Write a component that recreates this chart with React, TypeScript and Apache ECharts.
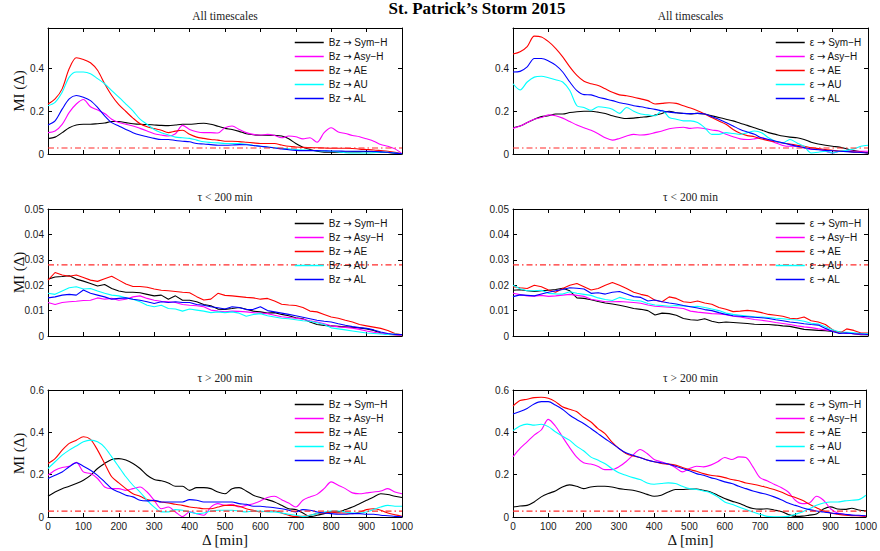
import React, { useEffect, useRef } from "react";
import * as echarts from "echarts";

// Lag Δ in minutes, sampled every 20 min
const lags = [
  0, 20, 40, 60, 80, 100, 120, 140, 160, 180,
  200, 220, 240, 260, 280, 300, 320, 340, 360, 380,
  400, 420, 440, 460, 480, 500, 520, 540, 560, 580,
  600, 620, 640, 660, 680, 700, 720, 740, 760, 780,
  800, 820, 840, 860, 880, 900, 920, 940, 960, 980,
  1000,
];

// Significance level of the mutual information
const threshold = 0.028;

const bzNames = ["Bz → Sym−H", "Bz → Asy−H", "Bz → AE", "Bz → AU", "Bz → AL"];
const epsNames = ["ε → Sym−H", "ε → Asy−H", "ε → AE", "ε → AU", "ε → AL"];

const panelTitles = ["All timescales", "τ < 200 min", "τ > 200 min"];
const xTickLabels = [0, 100, 200, 300, 400, 500, 600, 700, 800, 900, 1000];

// ---- All timescales, Bz driver ----
const bzSymAll = [.072,.079,.1,.123,.136,.139,.139,.142,.145,.152,
  .152,.147,.142,.139,.138,.136,.134,.133,.136,.139,
  .139,.142,.144,.139,.13,.12,.115,.106,.095,.09,
  .088,.088,.087,.084,.071,.049,.032,.021,.013,.009,
  .008,.008,.009,.01,.01,.011,.01,.009,.007,.004,
  .001];
const bzAsyAll = [.1,.108,.139,.195,.234,.255,.221,.206,.19,.163,
  .147,.139,.131,.12,.108,.095,.089,.084,.095,.134,
  .115,.104,.1,.1,.098,.123,.131,.115,.1,.092,
  .089,.092,.087,.076,.084,.081,.071,.076,.055,.1,
  .123,.103,.096,.087,.081,.071,.06,.044,.036,.024,
  .002];
const bzAEAll = [.234,.258,.305,.4,.451,.443,.427,.392,.329,.274,
  .231,.199,.168,.142,.128,.119,.111,.1,.107,.111,
  .092,.079,.073,.068,.065,.06,.06,.058,.055,.052,
  .049,.049,.049,.042,.036,.033,.031,.03,.029,.028,
  .027,.027,.027,.026,.023,.021,.019,.016,.013,.008,
  .001];
const bzAUAll = [.226,.242,.289,.36,.384,.384,.376,.353,.329,.297,
  .266,.234,.202,.163,.139,.115,.1,.089,.079,.076,
  .073,.065,.057,.054,.052,.049,.049,.049,.046,.04,
  .036,.033,.029,.027,.024,.021,.019,.017,.015,.014,
  .013,.01,.006,.005,.005,.005,.006,.008,.008,.005,
  .001];
const bzALAll = [.136,.155,.21,.258,.274,.266,.25,.218,.179,.147,
  .131,.115,.1,.089,.081,.073,.068,.068,.063,.06,
  .057,.049,.047,.044,.041,.041,.042,.044,.043,.04,
  .036,.033,.028,.024,.02,.017,.016,.016,.016,.015,
  .014,.014,.013,.013,.013,.013,.012,.01,.008,.004,
  .001];

// ---- All timescales, ε driver ----
const eSymAll = [.123,.131,.147,.163,.175,.179,.187,.187,.194,.198,
  .2,.2,.196,.19,.179,.171,.166,.168,.172,.175,
  .182,.19,.2,.193,.19,.188,.19,.187,.179,.171,
  .163,.155,.144,.134,.123,.112,.1,.092,.084,.079,
  .076,.068,.055,.047,.041,.036,.032,.024,.016,.011,
  .005];
const eAsyAll = [.12,.131,.147,.163,.171,.183,.179,.168,.152,.136,
  .123,.111,.095,.076,.065,.073,.084,.092,.089,.092,
  .1,.108,.118,.123,.125,.12,.123,.119,.112,.108,
  .092,.081,.071,.068,.071,.076,.065,.052,.04,.036,
  .036,.028,.021,.021,.013,.005,.013,.017,.013,.013,
  .013];
const eAEAll = [.468,.479,.503,.552,.548,.526,.495,.455,.408,.368,
  .341,.329,.321,.305,.289,.277,.273,.266,.258,.25,
  .234,.237,.24,.237,.226,.215,.202,.187,.171,.155,
  .139,.115,.097,.086,.081,.07,.062,.057,.052,.047,
  .041,.036,.03,.025,.021,.017,.014,.013,.009,.008,
  .005];
const eAUAll = [.329,.3,.337,.36,.364,.357,.348,.337,.297,.226,
  .218,.205,.221,.218,.21,.19,.218,.2,.187,.183,
  .179,.205,.171,.163,.155,.155,.147,.123,.092,.092,
  .1,.096,.092,.1,.108,.1,.076,.06,.052,.068,
  .052,.036,.005,.008,.013,.005,.013,.017,.024,.036,
  .041];
const eALAll = [.384,.387,.408,.447,.447,.436,.416,.384,.337,.297,
  .278,.277,.266,.258,.25,.24,.234,.226,.221,.215,
  .209,.202,.196,.193,.19,.189,.19,.187,.175,.163,
  .147,.131,.115,.103,.092,.076,.068,.06,.052,.044,
  .036,.03,.024,.02,.017,.015,.013,.011,.009,.007,
  .005];

// ---- τ < 200 min, Bz driver ----
const bzSymShort = [.0224,.0232,.0234,.0237,.0224,.0216,.0207,.0197,.0203,.0187,
  .0177,.0172,.0172,.017,.0164,.0158,.0161,.0145,.0158,.0141,
  .0141,.0135,.0124,.0119,.0106,.0105,.0108,.0112,.0105,.0098,
  .0095,.009,.0092,.0085,.008,.0072,.0068,.0055,.0045,.0042,
  .004,.0038,.0036,.0034,.0032,.0028,.0022,.0012,.0006,.0005,
  .0003];
const bzAsyShort = [.0132,.0124,.0132,.0135,.0137,.014,.0141,.015,.0145,.0148,
  .0141,.0145,.0154,.0158,.0148,.0141,.0137,.0135,.0132,.0124,
  .0121,.0119,.0115,.0102,.0098,.0095,.0098,.0097,.0095,.0092,
  .009,.0088,.0082,.0076,.0073,.007,.0066,.006,.0055,.0048,
  .004,.0036,.0034,.0031,.0026,.002,.0015,.0011,.0008,.0005,
  .0003];
const bzAEShort = [.022,.025,.024,.0235,.024,.023,.022,.0215,.0225,.0235,
  .022,.0205,.0195,.0195,.0192,.0185,.018,.0178,.0175,.0172,
  .017,.0155,.0142,.0145,.0168,.016,.0158,.0155,.0152,.015,
  .0145,.0148,.0138,.0125,.0122,.012,.0112,.0098,.0095,.0085,
  .0075,.007,.0062,.0055,.0045,.004,.0035,.003,.0022,.001,
  .0005];
const bzAUShort = [.0168,.0164,.0177,.019,.0194,.0185,.0187,.0177,.0168,.0161,
  .0158,.015,.0145,.0135,.0121,.0115,.0121,.0108,.0106,.0098,
  .0106,.0102,.0098,.0092,.0095,.0092,.0095,.009,.0078,.0085,
  .0088,.008,.0075,.007,.0068,.0064,.006,.0058,.0052,.0045,
  .0032,.0028,.0024,.002,.0016,.0012,.001,.0008,.0006,.0008,
  .0005];
const bzALShort = [.015,.0154,.0161,.0164,.0161,.0181,.0168,.0161,.0154,.0145,
  .0148,.015,.0145,.0141,.0135,.0128,.0135,.0132,.0135,.0132,
  .0132,.0124,.0121,.0115,.0111,.0106,.0115,.0112,.0104,.0105,
  .0115,.01,.0095,.009,.0085,.008,.0074,.0068,.0062,.0058,
  .0055,.0048,.0042,.0037,.0033,.003,.0024,.0016,.001,.0006,
  .0006];

// ---- τ < 200 min, ε driver ----
const eSymShort = [.018,.0182,.0178,.0175,.0178,.018,.0183,.0188,.0178,.015,
  .0148,.0143,.0136,.013,.0126,.0121,.0115,.0108,.0105,.01,
  .0083,.009,.0088,.0082,.0069,.0064,.0062,.0068,.0058,.0052,
  .0055,.0053,.0051,.0049,.0046,.0045,.0045,.0043,.004,.0038,
  .0032,.0026,.0024,.0022,.0021,.0018,.0016,.0012,.0009,.0005,
  .0005];
const eAsyShort = [.0168,.0163,.0158,.0157,.016,.0156,.0158,.0161,.0164,.016,
  .0156,.0145,.014,.0135,.0135,.0136,.0134,.0132,.0129,.0122,
  .0117,.0115,.0113,.0111,.0108,.0098,.0094,.0091,.0088,.0087,
  .0084,.0078,.0075,.007,.0065,.0062,.0058,.0053,.0049,.0045,
  .004,.0036,.0033,.0028,.0024,.002,.0014,.0011,.0009,.0007,
  .0005];
const eAEShort = [.0194,.019,.0187,.02,.0194,.0181,.0172,.0187,.02,.0207,
  .0194,.0181,.0187,.02,.0211,.02,.0187,.0172,.0164,.0158,
  .0141,.0135,.0154,.0148,.0135,.0132,.0138,.013,.0125,.0112,
  .0105,.0096,.0098,.0101,.0098,.0092,.0085,.0082,.0078,.007,
  .0068,.0075,.006,.0055,.0045,.0025,.001,.0028,.0022,.0012,
  .0012];
const eAUShort = [.02,.0186,.0178,.0178,.018,.0168,.0166,.0165,.0174,.0168,
  .0164,.016,.015,.0144,.014,.0152,.0145,.014,.0138,.0128,
  .0122,.012,.0117,.012,.0118,.0115,.0117,.0112,.0106,.01,
  .009,.0085,.0082,.0079,.0076,.0075,.0073,.007,.0068,.0065,
  .0063,.0058,.005,.0047,.0036,.0025,.0016,.0015,.0013,.001,
  .0009];
const eALShort = [.0155,.0162,.016,.0158,.0165,.0172,.0178,.0183,.019,.0188,
  .0185,.0168,.017,.0165,.0172,.0175,.0165,.0155,.0152,.0138,
  .0142,.0135,.013,.0126,.012,.0115,.011,.0104,.01,.0092,
  .0085,.008,.0078,.0076,.0074,.0072,.0069,.0064,.006,.0055,
  .0052,.0048,.0045,.0043,.003,.0018,.001,.0012,.0009,.0008,
  .0006];

// ---- τ > 200 min, Bz driver ----
const bzSymLong = [.098,.118,.134,.145,.158,.174,.197,.229,.253,.272,
  .276,.269,.253,.229,.197,.177,.171,.161,.145,.145,
  .126,.139,.139,.134,.118,.11,.134,.139,.123,.103,
  .092,.082,.071,.055,.039,.035,.019,.002,.008,.016,
  .024,.024,.035,.047,.063,.079,.095,.11,.106,.098,
  .092];
const bzAsyLong = [.197,.221,.234,.24,.258,.213,.205,.182,.142,.134,
  .134,.126,.134,.142,.118,.079,.039,.047,.024,.002,
  .024,.016,.008,.047,.063,.055,.06,.047,.055,.063,
  .076,.092,.098,.082,.066,.047,.079,.095,.107,.134,
  .166,.15,.134,.114,.11,.114,.118,.123,.134,.118,
  .11];
const bzAELong = [.253,.276,.316,.348,.363,.379,.367,.316,.253,.19,
  .161,.134,.11,.098,.082,.076,.071,.066,.06,.055,
  .047,.044,.039,.039,.047,.055,.055,.051,.039,.032,
  .024,.028,.028,.019,.008,.002,.003,.008,.016,.019,
  .024,.019,.019,.016,.024,.035,.039,.032,.019,.011,
  .003];
const bzAULong = [.229,.261,.292,.316,.335,.355,.363,.355,.329,.284,
  .237,.19,.15,.118,.079,.047,.024,.024,.035,.032,
  .024,.016,.019,.028,.032,.032,.032,.028,.024,.028,
  .028,.024,.024,.019,.013,.008,.002,.008,.016,.024,
  .028,.028,.024,.019,.019,.024,.035,.047,.055,.051,
  .051];
const bzALLong = [.182,.197,.213,.237,.256,.24,.221,.197,.166,.134,
  .118,.103,.095,.079,.076,.079,.071,.071,.071,.071,
  .082,.079,.071,.071,.071,.071,.071,.063,.06,.051,
  .051,.047,.044,.039,.032,.024,.035,.032,.024,.019,
  .016,.013,.013,.016,.016,.013,.013,.008,.006,.003,
  .001];

// ---- τ > 200 min, ε driver ----
const eSymLong = [.047,.052,.055,.071,.095,.111,.123,.142,.152,.145,
  .134,.142,.145,.145,.142,.134,.13,.126,.118,.107,
  .098,.103,.118,.13,.13,.132,.132,.126,.118,.103,
  .087,.075,.065,.051,.04,.037,.039,.033,.026,.012,
  .003,.004,.009,.014,.038,.048,.038,.036,.041,.033,
  .029];
const eAsyLong = [.284,.324,.355,.387,.411,.461,.43,.379,.329,.284,
  .256,.25,.24,.224,.224,.237,.261,.292,.319,.3,
  .272,.261,.25,.234,.213,.229,.24,.237,.245,.261,
  .281,.272,.284,.281,.237,.186,.171,.155,.139,.118,
  .079,.063,.066,.098,.079,.039,.019,.013,.008,.006,
  .003];
const eAELong = [.524,.55,.556,.564,.566,.561,.545,.521,.509,.498,
  .471,.45,.419,.395,.355,.324,.3,.288,.281,.269,
  .261,.253,.25,.245,.234,.224,.216,.205,.197,.193,
  .186,.177,.171,.161,.155,.148,.139,.13,.118,.103,
  .092,.079,.06,.044,.028,.019,.013,.008,.006,.006,
  .003];
const eAULong = [.408,.43,.439,.434,.438,.427,.403,.382,.363,.335,
  .313,.284,.269,.253,.229,.209,.197,.186,.177,.161,
  .155,.158,.161,.158,.145,.134,.13,.123,.114,.095,
  .071,.06,.047,.035,.024,.013,.003,.001,.001,.003,
  .013,.024,.039,.055,.066,.071,.071,.076,.079,.082,
  .103];
const eALLong = [.487,.498,.513,.534,.545,.545,.529,.509,.482,.461,
  .442,.419,.395,.371,.348,.324,.303,.292,.281,.269,
  .261,.256,.25,.24,.229,.218,.205,.197,.186,.177,
  .166,.158,.145,.134,.123,.114,.106,.095,.082,.066,
  .055,.044,.035,.028,.024,.019,.016,.013,.009,.008,
  .006];

const SANS = '"Liberation Sans", Arial, Helvetica, sans-serif';
const SERIF = '"Liberation Serif", "Times New Roman", Times, serif';
const ARROW_FONT = '"DejaVu Sans", sans-serif';

const lineColors = ["#000000", "#ff00ff", "#ff0000", "#00ffff", "#0000ff"];

type Panel = { row: number; col: number; names: string[]; curves: number[][] };

const panels: Panel[] = [
  { row: 0, col: 0, names: bzNames, curves: [bzSymAll, bzAsyAll, bzAEAll, bzAUAll, bzALAll] },
  { row: 0, col: 1, names: epsNames, curves: [eSymAll, eAsyAll, eAEAll, eAUAll, eALAll] },
  { row: 1, col: 0, names: bzNames, curves: [bzSymShort, bzAsyShort, bzAEShort, bzAUShort, bzALShort] },
  { row: 1, col: 1, names: epsNames, curves: [eSymShort, eAsyShort, eAEShort, eAUShort, eALShort] },
  { row: 2, col: 0, names: bzNames, curves: [bzSymLong, bzAsyLong, bzAELong, bzAULong, bzALLong] },
  { row: 2, col: 1, names: epsNames, curves: [eSymLong, eAsyLong, eAELong, eAULong, eALLong] },
];

// Layout of the 3x2 subplot grid (pixels)
const colLeft = [48, 513];
const colWidth = [354, 355];
const rowTop = [28, 209, 390];
const rowHeight = [126, 127, 127];
const legendLeft = [294, 775];

const yMax = [0.59, 0.05, 0.6];
const yStep = [0.2, 0.01, 0.2];

function buildOption(): echarts.EChartsOption {
  const frame = { show: true, onZero: false, lineStyle: { color: "#000", width: 1 } };
  const tick = { show: true, inside: true, length: 4, lineStyle: { color: "#000", width: 1 } };
  const labelStyle = { fontFamily: SANS, fontSize: 10, color: "#1a1a1a" };

  const grid: any[] = [];
  const xAxis: any[] = [];
  const yAxis: any[] = [];
  const series: any[] = [];
  const legend: any[] = [];
  const graphic: any[] = [];

  panels.forEach((p, i) => {
    const left = colLeft[p.col];
    const top = rowTop[p.row];
    const width = colWidth[p.col];
    const height = rowHeight[p.row];
    grid.push({ left, top, width, height, containLabel: false });

    const xBase = { type: "value", gridIndex: i, min: 0, max: 1000, interval: 100, splitLine: { show: false }, axisLine: frame, axisTick: tick };
    xAxis.push({
      ...xBase,
      position: "bottom",
      axisLabel: {
        show: p.row === 2,
        margin: 4,
        ...labelStyle,
        formatter: (v: number) => (xTickLabels.includes(v) ? String(v) : ""),
      },
    });
    xAxis.push({ ...xBase, position: "top", axisLabel: { show: false } });

    const yBase = { type: "value", gridIndex: i, min: 0, max: yMax[p.row], interval: yStep[p.row], splitLine: { show: false }, axisLine: frame, axisTick: tick };
    yAxis.push({
      ...yBase,
      position: "left",
      axisLabel: {
        show: true,
        margin: 4,
        showMinLabel: true,
        showMaxLabel: p.row !== 0,
        ...labelStyle,
        formatter: (v: number) => String(Math.round(v * 1000) / 1000),
      },
    });
    yAxis.push({ ...yBase, position: "right", axisLabel: { show: false } });

    series.push({
      type: "line",
      name: "threshold",
      xAxisIndex: 2 * i,
      yAxisIndex: 2 * i,
      data: [[0, threshold], [1000, threshold]],
      symbol: "none",
      showSymbol: false,
      silent: true,
      lineStyle: { color: "#ff2b2b", width: 1.2, type: [6, 3, 1.5, 3] },
      z: 3,
    });
    p.curves.forEach((c, k) => {
      series.push({
        type: "line",
        name: p.names[k],
        xAxisIndex: 2 * i,
        yAxisIndex: 2 * i,
        data: lags.map((x, j) => [x, c[j]]),
        symbol: "none",
        showSymbol: false,
        silent: true,
        smooth: p.row === 1 ? false : 0.3,
        clip: true,
        lineStyle: { color: lineColors[k], width: 1.1 },
        itemStyle: { color: lineColors[k] },
        z: 2,
      });
    });

    legend.push({
      left: legendLeft[p.col],
      top: top + 9.5,
      orient: "vertical",
      data: p.names,
      itemWidth: 29,
      itemHeight: 10,
      itemGap: 4,
      padding: 0,
      selectedMode: false,
      lineStyle: { width: 1.5 },
      itemStyle: { opacity: 0 },
      formatter: (name: string) => name.replace("→", "{arrow|→}"),
      textStyle: {
        ...labelStyle,
        color: "#111",
        lineHeight: 10,
        rich: { arrow: { fontFamily: ARROW_FONT, fontSize: 10, color: "#111", lineHeight: 10 } },
      },
    });

    graphic.push({
      type: "text",
      x: left + width / 2,
      y: top - 12.5,
      silent: true,
      style: { text: panelTitles[p.row], fontFamily: SERIF, fontSize: 11.5, fill: "#222", align: "center", verticalAlign: "middle" },
    });

    if (p.col === 0) {
      graphic.push({
        type: "text",
        x: 19,
        y: top + height / 2,
        rotation: Math.PI / 2,
        silent: true,
        style: { text: "MI (Δ)", fontFamily: SERIF, fontSize: 15, fill: "#111", align: "center", verticalAlign: "middle" },
      });
    }
    if (p.row === 2) {
      graphic.push({
        type: "text",
        x: left + width / 2,
        y: 540,
        silent: true,
        style: { text: "Δ [min]", fontFamily: SERIF, fontSize: 15, fill: "#111", align: "center", verticalAlign: "middle" },
      });
    }
  });

  graphic.push({
    type: "text",
    x: 477,
    y: 8,
    silent: true,
    style: { text: "St. Patrick’s Storm 2015", fontFamily: SERIF, fontSize: 17, fontWeight: "bold", fill: "#000", align: "center", verticalAlign: "middle" },
  });

  return {
    animation: false,
    backgroundColor: "#ffffff",
    grid,
    xAxis,
    yAxis,
    legend,
    series,
    graphic,
  } as echarts.EChartsOption;
}

export default function App() {
  const ref = useRef<HTMLDivElement>(null);

  useEffect(() => {
    if (!ref.current) return;
    const chart = echarts.init(ref.current, null, { renderer: "svg" });
    chart.setOption(buildOption());
    return () => chart.dispose();
  }, []);

  return (
    <div
      ref={ref}
      style={{ position: "absolute", left: 0, top: 0, width: 880, height: 551, background: "#fff" }}
    />
  );
}
